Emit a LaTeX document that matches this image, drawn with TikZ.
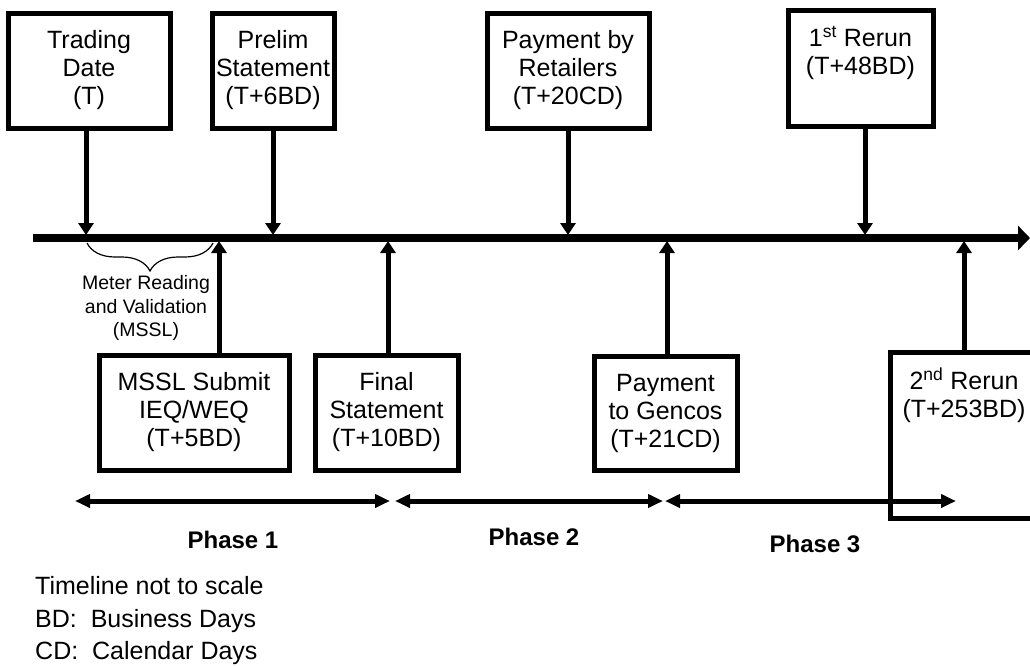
\documentclass[tikz,border=0pt]{standalone}
\usepackage{fontspec}
\setmainfont{Liberation Sans}
\usetikzlibrary{arrows.meta,decorations.pathreplacing}
\begin{document}
\begin{tikzpicture}[x=1pt,y=-1pt,
  box/.style={draw,line width=5pt,rectangle,inner sep=0pt,align=center,font=\fontsize{25}{28}\selectfont},
  txt/.style={inner sep=0pt,align=center,font=\fontsize{25}{28}\selectfont},
  arr/.style={line width=5pt,-{Triangle[width=15pt,length=12pt]}},
  phasearr/.style={line width=5pt,{Triangle[width=13pt,length=15pt]}-{Triangle[width=13pt,length=15pt]}},
  phaselbl/.style={inner sep=0pt,anchor=base,font=\bfseries\fontsize{24}{28}\selectfont},
  note/.style={inner sep=0pt,anchor=base west,font=\fontsize{25}{28}\selectfont}]
\useasboundingbox (0,0) rectangle (1030,665);
\clip (0,0) rectangle (1030,665);

% timeline
\coordinate (tlS) at (33,238);
\coordinate (tlE) at (1030,238);
\draw[line width=7.5pt,-{Triangle[width=24pt,length=12pt]}] (tlS) -- (tlE);
\coordinate (top) at (0,235);
\coordinate (bot) at (0,241);

% top boxes
\node[box,minimum width=162pt,minimum height=115pt] (trade) at (89,70.5) {Trading\\Date\\(T)};
\node[box,minimum width=122pt,minimum height=115pt] (prelim) at (273,70.5) {Prelim\\Statement\\(T+6BD)};
\node[box,minimum width=162pt,minimum height=115pt] (retail) at (568,70.5) {Payment by\\Retailers\\(T+20CD)};
\node[box,minimum width=145pt,minimum height=116pt] (first) at (860.5,68) {};
\node[txt,anchor=north] (firstT) at ([yshift=-18pt]first.north) {1\textsuperscript{st} Rerun\\(T+48BD)};

% bottom boxes
\node[box,minimum width=190pt,minimum height=115pt] (mssl) at (194,412.5) {MSSL Submit\\IEQ/WEQ\\(T+5BD)};
\node[box,minimum width=143pt,minimum height=115pt] (final) at (386.5,412.5) {Final\\Statement\\(T+10BD)};
\node[box,minimum width=143pt,minimum height=114pt] (gencos) at (665.5,413) {Payment\\to Gencos\\(T+21CD)};
\node[box,minimum width=190pt,minimum height=166pt] (second) at (985,435) {};
\node[txt,anchor=north] (secondT) at (964,368) {2\textsuperscript{nd} Rerun\\(T+253BD)};

% arrow positions
\coordinate (xT) at (86,0);
\coordinate (xP) at (273,0);
\coordinate (xR) at (568,0);
\coordinate (xF) at (865,0);
\coordinate (xM) at (219,0);
\coordinate (xS) at (388,0);
\coordinate (xG) at (667,0);
\coordinate (xN) at (964,0);

\draw[arr] (xT |- trade.south) -- (xT |- top);
\draw[arr] (xP |- prelim.south) -- (xP |- top);
\draw[arr] (xR |- retail.south) -- (xR |- top);
\draw[arr] (xF |- first.south) -- (xF |- top);
\draw[arr] (xM |- mssl.north) -- (xM |- bot);
\draw[arr] (xS |- final.north) -- (xS |- bot);
\draw[arr] (xG |- gencos.north) -- (xG |- bot);
\draw[arr] (xN |- second.north) -- (xN |- bot);

% brace
\coordinate (brA) at (213,243);
\coordinate (brB) at (87,243);
\draw[line width=1.2pt,decorate,decoration={brace,amplitude=28pt}] (brA) -- (brB);
\node[inner sep=0pt,align=center,font=\fontsize{19.5}{23.5}\selectfont] (meter) at (146,308) {Meter Reading\\and Validation\\(MSSL)};

% phases
\coordinate (p1a) at (75,501);
\coordinate (p1b) at (390,501);
\coordinate (p2a) at (395,501);
\coordinate (p2b) at (663,501);
\coordinate (p3a) at (665,501);
\coordinate (p3b) at (956,501);
\draw[phasearr] (p1a) -- (p1b);
\draw[phasearr] (p2a) -- (p2b);
\draw[phasearr] (p3a) -- (p3b);
\node[phaselbl] (ph1) at (233,548) {Phase 1};
\node[phaselbl] (ph2) at (534,545) {Phase 2};
\node[phaselbl] (ph3) at (815,552) {Phase 3};

% notes
\node[note] (n1) at (35,594) {Timeline not to scale};
\node[note] (n2) at (35,627) {BD:\ \ Business Days};
\node[note] (n3) at (35,659) {CD:\ \ Calendar Days};
\end{tikzpicture}
\end{document}
